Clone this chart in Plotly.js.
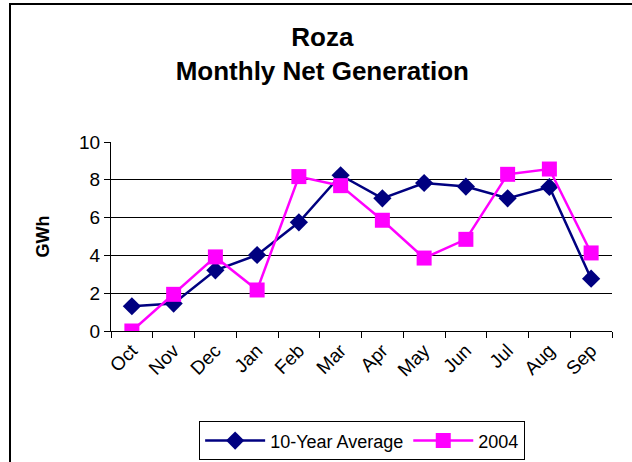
<!DOCTYPE html>
<html>
<head>
<meta charset="utf-8">
<script src="https://cdn.plot.ly/plotly-3.0.1.min.js"></script>
<style>
  html, body { margin: 0; padding: 0; background: #fff; }
  #wrap { position: relative; width: 632px; height: 462px; overflow: hidden; }
  #chart { width: 632px; height: 462px; }
  #frame { position: absolute; left: 9px; top: 3px; width: 700px; height: 600px;
           border-left: 2px solid #000; border-top: 2px solid #000; pointer-events: none; }
</style>
</head>
<body>
<div id="wrap">
  <div id="chart"></div>
  <div id="frame"></div>
</div>
<script>
const months = ["Oct","Nov","Dec","Jan","Feb","Mar","Apr","May","Jun","Jul","Aug","Sep"];
const tenYearAverage = [1.31, 1.45, 3.21, 4.02, 5.75, 8.24, 7.02, 7.83, 7.64, 7.02, 7.62, 2.77];
const gen2004 = [0.0, 1.94, 3.92, 2.17, 8.17, 7.69, 5.86, 3.86, 4.85, 8.29, 8.57, 4.13];
const yTicks = [0, 2, 4, 6, 8, 10];

const traces = [
  {
    x: months, y: tenYearAverage, name: "10-Year Average", type: "scatter", mode: "lines+markers",
    line: { color: "#000080", width: 2.5 },
    marker: { symbol: "diamond", size: 14, color: "#000080" }
  },
  {
    x: months, y: gen2004, name: "2004", type: "scatter", mode: "lines+markers",
    line: { color: "#FF00FF", width: 2.5 },
    marker: { symbol: "square", size: 15, color: "#FF00FF" }
  }
];

const layout = {
  width: 632, height: 462,
  margin: { l: 111, r: 20, t: 142, b: 131 },
  paper_bgcolor: "rgba(0,0,0,0)",
  plot_bgcolor: "#fff",
  font: { family: "Liberation Sans, Arial, sans-serif", color: "#000", size: 19 },
  title: {
    text: "<b>Roza</b><br><b>Monthly Net Generation</b>",
    font: { size: 26, color: "#000" },
    xref: "container", x: 0.51, xanchor: "center",
    yref: "container", y: 0.9, yanchor: "top"
  },
  xaxis: {
    type: "category", categoryorder: "array", categoryarray: months,
    range: [-0.5, 11.5], automargin: false,
    tickson: "boundaries", ticks: "outside", ticklen: 6, tickcolor: "#000", tickwidth: 1,
    tickangle: -45, tickfont: { size: 19 },
    showline: true, linecolor: "#000", linewidth: 1,
    showgrid: false, zeroline: false
  },
  yaxis: {
    range: [0, 10], tickvals: yTicks, ticktext: yTicks.map(String), automargin: false,
    ticks: "outside", ticklen: 6, tickcolor: "#000", tickwidth: 1,
    tickfont: { size: 19 },
    showline: true, linecolor: "#000", linewidth: 1,
    showgrid: true, gridcolor: "#000", gridwidth: 1, zeroline: false,
    title: { text: "<b>GWh</b>", font: { size: 18 }, standoff: 24 }
  },
  showlegend: true,
  legend: {
    orientation: "h",
    xref: "container", x: 0.573, xanchor: "center",
    yref: "container", y: 0.088, yanchor: "top",
    bordercolor: "#000", borderwidth: 1, bgcolor: "#fff",
    font: { size: 18 }, itemwidth: 60
  }
};

Plotly.newPlot("chart", traces, layout, { displayModeBar: false, staticPlot: true });
</script>
</body>
</html>
